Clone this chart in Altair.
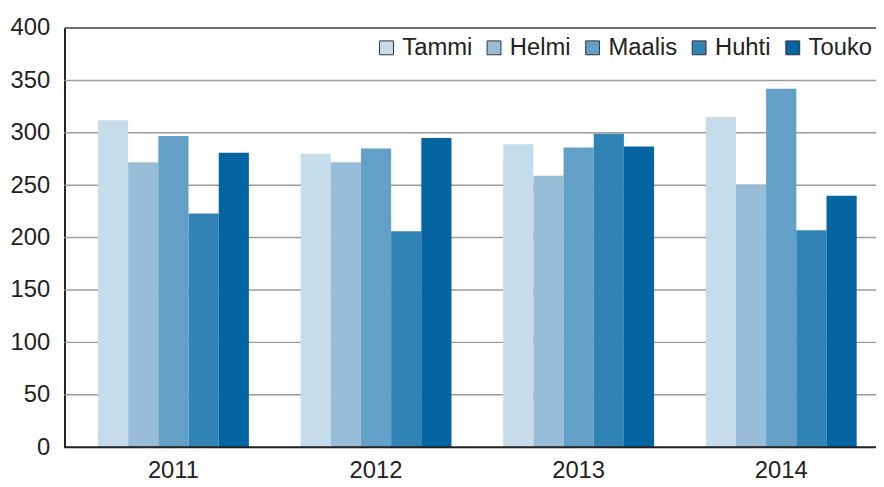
import altair as alt
import pandas as pd

years = ["2011", "2012", "2013", "2014"]
months = ["Tammi", "Helmi", "Maalis", "Huhti", "Touko"]
tammi = [312, 280, 289, 315]
helmi = [272, 272, 259, 250]
maalis = [297, 285, 286, 342]
huhti = [223, 206, 299, 207]
touko = [281, 295, 287, 240]
colors = ["#c7dcea", "#98bdd8", "#62a0c8", "#3283b5", "#0565a3"]
y_ticks = [0, 50, 100, 150, 200, 250, 300, 350, 400]
grid_vals = [50, 100, 150, 200, 250, 300, 350]

series = [tammi, helmi, maalis, huhti, touko]
rows = []
for m, vals in zip(months, series):
    for yr, v in zip(years, vals):
        rows.append({"year": yr, "month": m, "value": v})
df = pd.DataFrame(rows)

W, H = 819, 423

yscale = alt.Scale(domain=[0, 400], nice=False)

grid = alt.Chart(pd.DataFrame({"v": grid_vals})).mark_rule(color="#9c9c9c", strokeWidth=1.5).encode(
    y=alt.Y("v:Q", scale=yscale), x=alt.value(0), x2=alt.value(W))

bars = alt.Chart(df).mark_bar().encode(
    x=alt.X("year:N", sort=years, title=None,
            scale=alt.Scale(range=[33.8, 799.5], paddingInner=0.255, paddingOuter=0),
            axis=alt.Axis(labelAngle=0, ticks=False, domain=False, labelPadding=12,
                          labelFontSize=24, labelColor="#222")),
    xOffset=alt.XOffset("month:N", sort=months),
    y=alt.Y("value:Q", title=None, scale=yscale,
            axis=alt.Axis(values=y_ticks, ticks=False, grid=False, labelPadding=15,
                          labelFontSize=24, labelColor="#222", domainColor="#222",
                          domainWidth=2)),
    color=alt.Color("month:N", sort=months,
                    scale=alt.Scale(domain=months, range=colors),
                    legend=alt.Legend(title=None, orient="none", legendX=313, legendY=8,
                                      direction="horizontal", columns=5,
                                      symbolType="square", symbolSize=196,
                                      symbolStrokeColor="#333", symbolStrokeWidth=1,
                                      symbolOpacity=1, labelFontSize=24, labelOffset=4,
                                      columnPadding=9.5, labelColor="#222")),
)

bottom = alt.Chart(pd.DataFrame({"v": [0]})).mark_rule(color="#222", strokeWidth=2).encode(
    y=alt.Y("v:Q", scale=yscale), x=alt.value(0), x2=alt.value(W))
top = alt.Chart(pd.DataFrame({"v": [400]})).mark_rule(color="#444", strokeWidth=1.5).encode(
    y=alt.Y("v:Q", scale=yscale), x=alt.value(0), x2=alt.value(W))

chart = alt.layer(grid, bars, bottom, top).properties(
    width=W, height=H,
    autosize=alt.AutoSizeParams(type="none"),
    padding={"left": 57, "top": 18, "right": 0, "bottom": 38},
).configure(font="Liberation Sans").configure_view(stroke=None)

chart.save("out.html", embed_options={"renderer": "svg", "actions": False})
